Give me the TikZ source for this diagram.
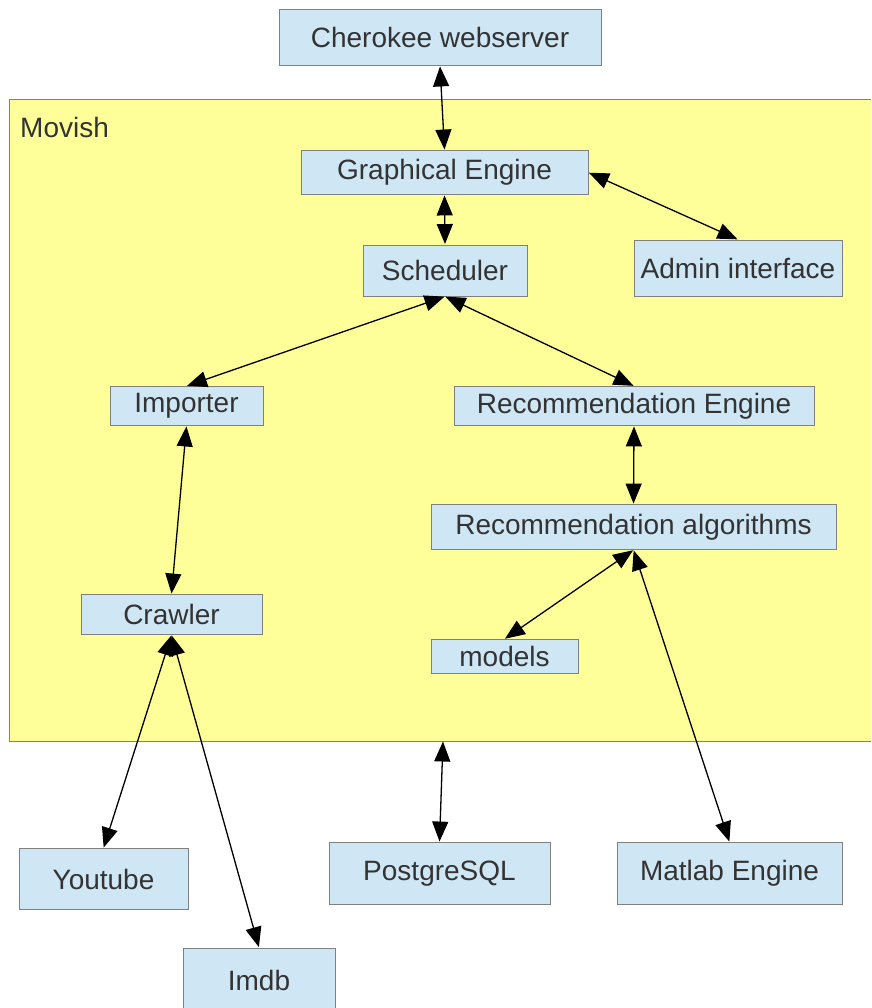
\documentclass[tikz,border=0pt]{standalone}
\usepackage{fontspec}
\setmainfont{Liberation Sans}
\usetikzlibrary{arrows.meta}
\definecolor{boxblue}{HTML}{CFE7F5}
\definecolor{boxline}{HTML}{808080}
\definecolor{movyellow}{HTML}{FFFF99}
\definecolor{txtgray}{HTML}{333333}

\begin{document}
\begin{tikzpicture}[x=1pt,y=-1pt,
    box/.style={draw=boxline,fill=boxblue,line width=0.9pt,inner sep=0pt,text=txtgray,font=\fontsize{28}{32}\selectfont},
    link/.style={{Triangle[length=20pt,width=16pt]}-{Triangle[length=20pt,width=16pt]},line width=1.3pt,black,shorten <=0.5pt,shorten >=0.5pt}]
        \clip (0,0) rectangle (871,1008);
        \fill[white] (0,0) rectangle (871,1008);
        % Movish area
        \draw[boxline,fill=movyellow,line width=0.9pt] (9,99) rectangle (890,741);
        \node[anchor=west,text=txtgray,font=\fontsize{28}{32}\selectfont,inner sep=0pt] (movlabel) at (20,127) {Movish};
        \coordinate (movbottom) at (443,741);
        % Components
        \node[box,minimum width=322pt,minimum height=56pt] (web) at (440,37.5) {Cherokee webserver};
        \node[box,minimum width=287pt,minimum height=44pt] (gfx) at (444.5,172.5) {Graphical Engine};
        \node[box,minimum width=164pt,minimum height=51pt] (sched) at (445,270.5) {Scheduler};
        \node[box,minimum width=208pt,minimum height=56pt] (admin) at (738,268) {Admin interface};
        \node[box,minimum width=153pt,minimum height=39pt] (imp) at (186.5,406) {Importer};
        \node[box,minimum width=360pt,minimum height=39pt] (receng) at (634,406) {Recommendation Engine};
        \node[box,minimum width=405pt,minimum height=45pt] (recalg) at (633.5,527) {Recommendation algorithms};
        \node[box,minimum width=181pt,minimum height=40pt] (crawl) at (171.5,614.5) {Crawler};
        \node[box,minimum width=147pt,minimum height=34pt] (models) at (504.5,656.5) {models};
        \node[box,minimum width=169pt,minimum height=61pt] (yt) at (103.5,879) {Youtube};
        \node[box,minimum width=221pt,minimum height=62pt] (pg) at (439.5,873.5) {PostgreSQL};
        \node[box,minimum width=225pt,minimum height=62pt] (matlab) at (729.5,873.5) {Matlab Engine};
        \node[box,minimum width=152pt,minimum height=64pt] (imdb) at (259,980) {Imdb};
        % Links
        \draw[link] (web.south) -- (gfx.north);
        \draw[link] (gfx.south) -- (sched.north);
        \draw[link] (gfx.east) -- (admin.north);
        \draw[link] (sched.south) -- (imp.north);
        \draw[link] (sched.south) -- (receng.north);
        \draw[link] (receng.south) -- (recalg.north);
        \draw[link] (imp.south) -- (crawl.north);
        \draw[link] (recalg.south) -- (models.north);
        \draw[link] (recalg.south) -- (matlab.north);
        \draw[link] (crawl.south) -- (yt.north);
        \draw[link] (crawl.south) -- (imdb.north);
        \draw[link] (movbottom) -- (pg.north);
    \end{tikzpicture}
\end{document}
